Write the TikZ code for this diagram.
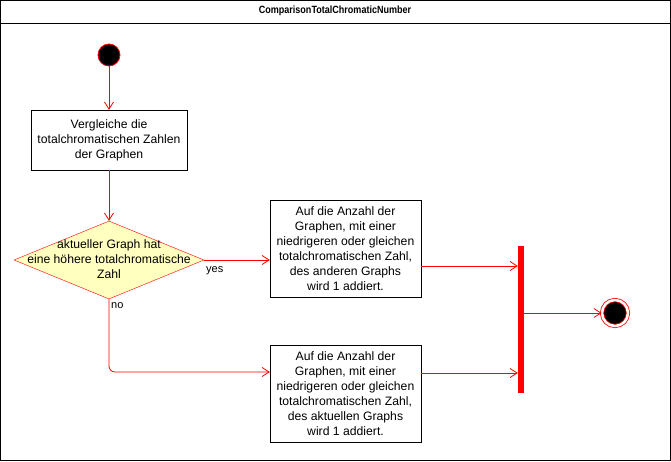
\documentclass[tikz,border=0pt]{standalone}
\usepackage{fontspec}
\setmainfont{Liberation Sans}
\usetikzlibrary{shapes.geometric,arrows.meta}
\begin{document}
\begin{tikzpicture}[x=1pt,y=-1pt,
    action/.style={draw=black,fill=white,rectangle,inner sep=0pt,align=center,
      font=\fontsize{12.2}{15}\selectfont},
    decision/.style={draw=red,fill={rgb,255:red,255;green,255;blue,192},diamond,
      inner sep=0pt,minimum width=190pt,minimum height=78pt},
    flow/.style={draw=red,line width=0.8pt,-{Straight Barb[length=7pt,width=9pt]}},
    lbl/.style={font=\fontsize{11}{13}\selectfont,inner sep=0pt}]
      \useasboundingbox (0,0) rectangle (671,461);
      \draw[line width=1pt] (0.5,0.5) rectangle (670.5,460.5);
      \draw[line width=1pt] (0.5,23) -- (670.5,23);
      \node[font=\fontsize{10.5}{13}\selectfont\bfseries] (title) at (335,11)
        {\scalebox{0.86}[1]{ComparisonTotalChromaticNumber}};
      \node[circle,draw=red,fill=black,minimum size=22pt,inner sep=0pt,line width=0.8pt] (start) at (109,55) {};
      \node[action,minimum width=156pt,minimum height=60pt] (compare) at (109,140)
        {Vergleiche die\\totalchromatischen Zahlen\\der Graphen};
      \node[decision] (dec) at (109,260) {};
      \node[action,draw=none,fill=none] (dectxt) at (109,259)
        {aktueller Graph hat\\eine höhere totalchromatische\\Zahl};
      \node[action,minimum width=151pt,minimum height=97pt] (other) at (345.5,248.5)
        {Auf die Anzahl der\\Graphen, mit einer\\niedrigeren oder gleichen\\totalchromatischen Zahl,\\des anderen Graphs\\wird 1 addiert.};
      \node[action,minimum width=151pt,minimum height=97pt] (current) at (345.5,393.5)
        {Auf die Anzahl der\\Graphen, mit einer\\niedrigeren oder gleichen\\totalchromatischen Zahl,\\des aktuellen Graphs\\wird 1 addiert.};
      \node[rectangle,fill=red,inner sep=0pt,minimum width=6pt,minimum height=147pt] (join) at (521,319.5) {};
      \node[circle,draw=red,line width=0.8pt,double=white,double distance=2.5pt,fill=black,
        minimum size=26pt,inner sep=0pt] (end) at (615,313) {};
      \node[lbl,anchor=west] (yes) at (206,271) {yes};
      \node[lbl,anchor=west] (no) at (111,306) {no};
      \begin{scope}[flow]
        \draw (start) to (compare);
        \draw (compare) to (dec);
        \draw (dec.east) to (dec.east -| other.west);
        \draw[rounded corners=6pt] (dec.south) |- ([yshift=21.5pt]current.west);
        \draw ([yshift=-17.5pt]other.east) to ([yshift=-17.5pt]other.east -| join.west);
        \draw ([yshift=20.5pt]current.east) to ([yshift=20.5pt]current.east -| join.west);
        \draw (join.east |- end) to (end);
      \end{scope}
    \end{tikzpicture}
\end{document}
